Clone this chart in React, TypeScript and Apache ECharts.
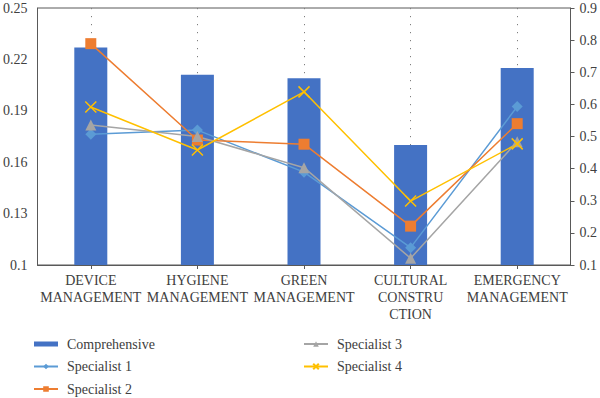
import React, { useEffect, useRef } from "react";
import * as echarts from "echarts";

const categories = [
  "DEVICE\nMANAGEMENT",
  "HYGIENE\nMANAGEMENT",
  "GREEN\nMANAGEMENT",
  "CULTURAL\nCONSTRU\nCTION",
  "EMERGENCY\nMANAGEMENT",
];
const comprehensive = [0.227, 0.211, 0.209, 0.17, 0.215];
const specialist1 = [0.507, 0.52, 0.389, 0.154, 0.593];
const specialist2 = [0.789, 0.489, 0.476, 0.221, 0.54];
const specialist3 = [0.536, 0.5, 0.403, 0.121, 0.484];
const specialist4 = [0.592, 0.458, 0.639, 0.299, 0.477];

const FONT = "'Liberation Serif', 'DejaVu Serif', serif";
const TXT = "#404040";
const AX = "#595959";
const X_ICON = "path://M0,0L10,10M10,0L0,10";
const BAR_ICON = "path://M0,1h24v5h-24z M0,0h0.05v0.05h-0.05z M23.95,6.95h0.05v0.05h-0.05z";

export default function App() {
  const ref = useRef<HTMLDivElement>(null);
  useEffect(() => {
    document.body.style.margin = "0";
    if (!ref.current) return;
    const chart = echarts.init(ref.current, undefined, { renderer: "svg" });
    const lineSeries = (name: string, data: number[], color: string, symbol: string, size: number, extra: any = {}) => ({
      name,
      type: "line",
      yAxisIndex: 1,
      data,
      symbol,
      symbolSize: size,
      lineStyle: { color, width: 1.5 },
      itemStyle: { color, ...extra },
      z: 3,
    });
    const legendText = { fontFamily: FONT, fontSize: 14, color: TXT, padding: [0, 0, 0, 4] };
    const legendBase = {
      orient: "vertical",
      top: 337,
      height: 70,
      itemWidth: 24,
      itemHeight: 7,
      itemGap: 8.5,
      padding: 0,
      textStyle: legendText,
    };
    chart.setOption({
      animation: false,
      textStyle: { fontFamily: FONT },
      grid: {
        left: 34,
        right: 27,
        top: 8,
        bottom: 133,
        show: true,
        borderColor: AX,
        borderWidth: 1,
        backgroundColor: "transparent",
      },
      legend: [
        {
          ...legendBase,
          data: [
            { name: "Comprehensive", icon: BAR_ICON },
            "Specialist 1",
            "Specialist 2",
          ],
          left: 33,
        },
        {
          ...legendBase,
          data: ["Specialist 3", "Specialist 4"],
          left: 303,
        },
      ],
      xAxis: {
        type: "category",
        data: categories,
        axisLine: { lineStyle: { color: AX } },
        axisTick: { show: true, alignWithLabel: true, length: 4, lineStyle: { color: AX } },
        axisLabel: {
          interval: 0,
          fontFamily: FONT,
          fontSize: 14,
          color: TXT,
          margin: 7,
          lineHeight: 17,
        },
        splitLine: { show: false },
      },
      yAxis: [
        {
          type: "value",
          min: 0.1,
          max: 0.25,
          interval: 0.03,
          axisLine: { show: true, lineStyle: { color: AX } },
          axisTick: { show: false },
          splitLine: { show: false },
          axisLabel: {
            fontFamily: FONT,
            fontSize: 14,
            color: TXT,
            margin: 10,
            formatter: (v: number) => String(Math.round(v * 100) / 100),
          },
        },
        {
          type: "value",
          min: 0.1,
          max: 0.9,
          interval: 0.1,
          position: "right",
          axisLine: { show: true, lineStyle: { color: AX } },
          axisTick: { show: true, length: 4, lineStyle: { color: AX } },
          splitLine: { show: false },
          axisLabel: {
            fontFamily: FONT,
            fontSize: 14,
            color: TXT,
            margin: 9,
            formatter: (v: number) => String(Math.round(v * 10) / 10),
          },
        },
      ],
      series: [
        {
          name: "Comprehensive",
          type: "bar",
          data: comprehensive,
          barWidth: 33,
          itemStyle: { color: "#4472C4" },
          z: 2,
          markLine: {
            silent: true,
            symbol: "none",
            label: { show: false },
            z: 1,
            lineStyle: { color: "#7f7f7f", type: [1.2, 6.8], width: 1 },
            data: comprehensive.map((v, i) => [
              { coord: [i, 0.25] },
              { coord: [i, v] },
            ]),
          },
        },
        lineSeries("Specialist 1", specialist1, "#5B9BD5", "diamond", 11),
        lineSeries("Specialist 2", specialist2, "#ED7D31", "rect", 11),
        lineSeries("Specialist 3", specialist3, "#A5A5A5", "triangle", 11),
        lineSeries("Specialist 4", specialist4, "#FFC000", X_ICON, 11, {
          borderColor: "#FFC000",
          borderWidth: 1.5,
        }),
      ],
    });
    return () => chart.dispose();
  }, []);
  return <div ref={ref} style={{ width: 600, height: 398 }} />;
}
